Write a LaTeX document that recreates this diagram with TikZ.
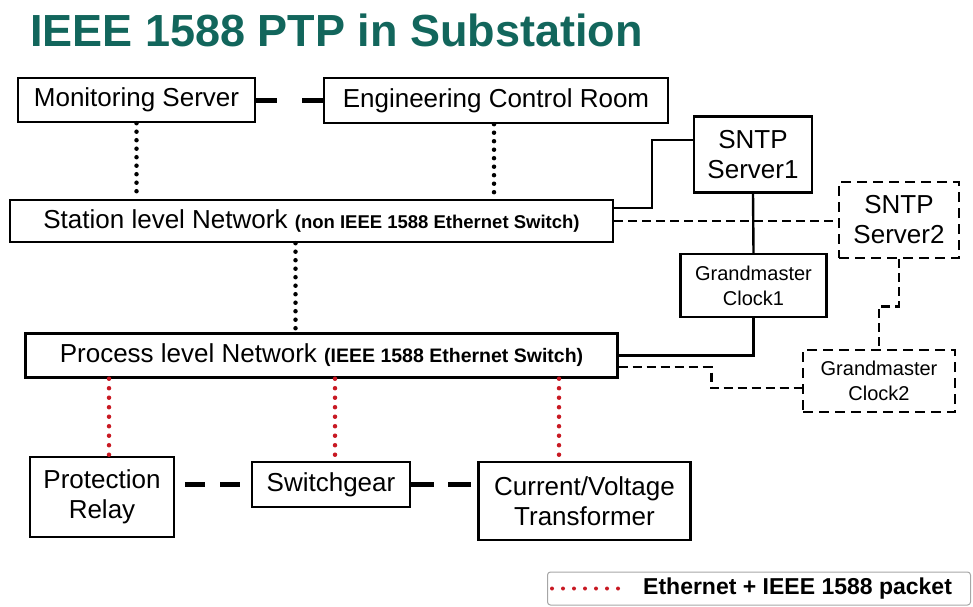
\documentclass[tikz,border=0pt]{standalone}
\usepackage{fontspec}
\setmainfont{Liberation Sans}
\usepackage{tikz}
\usetikzlibrary{positioning, calc}
\definecolor{titleteal}{RGB}{18, 102, 92}
\definecolor{pktred}{RGB}{200, 25, 35}
\tikzset{
  devbox/.style={draw=black, line width=2.4pt, align=center, inner sep=2pt, font=\fontsize{26}{30}\selectfont},
  sparebox/.style={devbox, dash pattern=on 10pt off 6pt},
  smalltxt/.style={font=\fontsize{20}{25}\selectfont},
  ethdots/.style={line width=4.5pt, line cap=round, dash pattern=on 0pt off 8.5pt},
  pktdots/.style={ethdots, pktred, line width=4.5pt, dash pattern=on 0pt off 9.5pt},
  fielddash/.style={line width=5pt, dash pattern=on 21pt off 25pt},
  synclink/.style={line width=2.4pt},
  sparelink/.style={line width=2.6pt, dash pattern=on 9pt off 5pt}
}

\begin{document}
\begin{tikzpicture}[x=1pt, y=-1pt]
  \useasboundingbox (0,0) rectangle (973,606);

  % Title
  \node[anchor=west, inner sep=0pt, font=\fontsize{45}{48}\selectfont\bfseries, text=titleteal] (title) at (30,30) {IEEE 1588 PTP in Substation};

  % Station level
  \node[devbox, minimum width=237pt, minimum height=44pt] (mon) at (136.5,100) {Monitoring Server};
  \node[devbox, minimum width=344pt, minimum height=45pt] (eng) at (496,100.5) {Engineering Control Room};
  \node[devbox, minimum width=603pt, minimum height=42pt] (stn) at (311.5,221)
    {Station level Network {\fontsize{18.5}{22}\selectfont\bfseries (non IEEE 1588 Ethernet Switch)}};

  % Time sources
  \node[devbox, minimum width=118pt, minimum height=76pt] (sntpA) at (753,154.5) {SNTP\\Server1};
  \node[sparebox, minimum width=120pt, minimum height=76pt] (sntpB) at (899,220) {SNTP\\Server2};
  \node[devbox, smalltxt, minimum width=146pt, minimum height=63pt] (gmA) at (753.5,285.5) {Grandmaster\\Clock1};
  \node[sparebox, smalltxt, minimum width=152pt, minimum height=62pt] (gmB) at (879,381) {Grandmaster\\Clock2};

  % Process level
  \node[devbox, minimum width=592pt, minimum height=44pt] (prc) at (321.5,355.5)
    {Process level Network {\fontsize{19.5}{22}\selectfont\bfseries (IEEE 1588 Ethernet Switch)}};
  \node[devbox, minimum width=144pt, minimum height=80pt] (rel) at (102,497) {Protection\\Relay};
  \node[devbox, minimum width=158pt, minimum height=45pt] (swg) at (331,484.5) {Switchgear};
  \node[devbox, minimum width=212pt, minimum height=78pt] (cvt) at (584.5,501) {Current/Voltage\\Transformer};

  % Links between devices
  \draw[fielddash] (mon.east) -- (mon.east -| eng.west);
  \draw[fielddash, dash pattern=on 20pt off 15pt, shorten <=10pt] (swg.west -| rel.east) -- (swg.west);
  \draw[fielddash, dash pattern=on 23pt off 14pt] (swg.east) -- (swg.east -| cvt.west);

  % Ethernet (black dots)
  \draw[ethdots] (mon.south) -- (mon.south |- stn.north);
  \draw[ethdots] ([xshift=-2pt]eng.south) -- ([xshift=-2pt]eng.south |- stn.north);
  \draw[ethdots] ([xshift=-16pt]stn.south) -- ([xshift=-16pt]stn.south |- prc.north);

  % Ethernet + IEEE 1588 (red dots)
  \draw[pktdots] ([xshift=7pt]rel.north |- prc.south) -- ([xshift=7pt]rel.north);
  \draw[pktdots] ([xshift=4pt]swg.north |- prc.south) -- ([xshift=4pt]swg.north);
  \draw[pktdots] ([xshift=-25.5pt]cvt.north |- prc.south) -- ([xshift=-25.5pt]cvt.north);

  % Time distribution
  \draw[synclink] ([yshift=13pt]stn.east) -- ++(38,0) |- ([yshift=14.5pt]sntpA.west);
  \draw[synclink] (sntpA.south) -- (gmA.north);
  \draw[synclink] (gmA.south) |- (prc.east);
  \draw[sparelink] (stn.east) -- (stn.east -| sntpB.west);
  \draw[sparelink] (sntpB.south) -- ++(0,47) -| (gmB.north);
  \draw[sparelink] ([yshift=-11.5pt]prc.east) -- ++(92.5,0) |- ([yshift=-7pt]gmB.west);

  % Legend
  \node[draw=gray!70, line width=1pt, rounded corners=3pt, minimum width=423pt, minimum height=33pt] (lgd) at (759,588.5) {};
  \node[anchor=west, inner sep=0pt, font=\fontsize{23}{26}\selectfont\bfseries] (lgdtxt) at ([xshift=96pt]lgd.west) {Ethernet + IEEE 1588 packet};
  \draw[pktdots, line width=4pt, dash pattern=on 0pt off 11pt] ([xshift=5pt]lgd.west) -- ([xshift=81pt]lgd.west);
\end{tikzpicture}
\end{document}
